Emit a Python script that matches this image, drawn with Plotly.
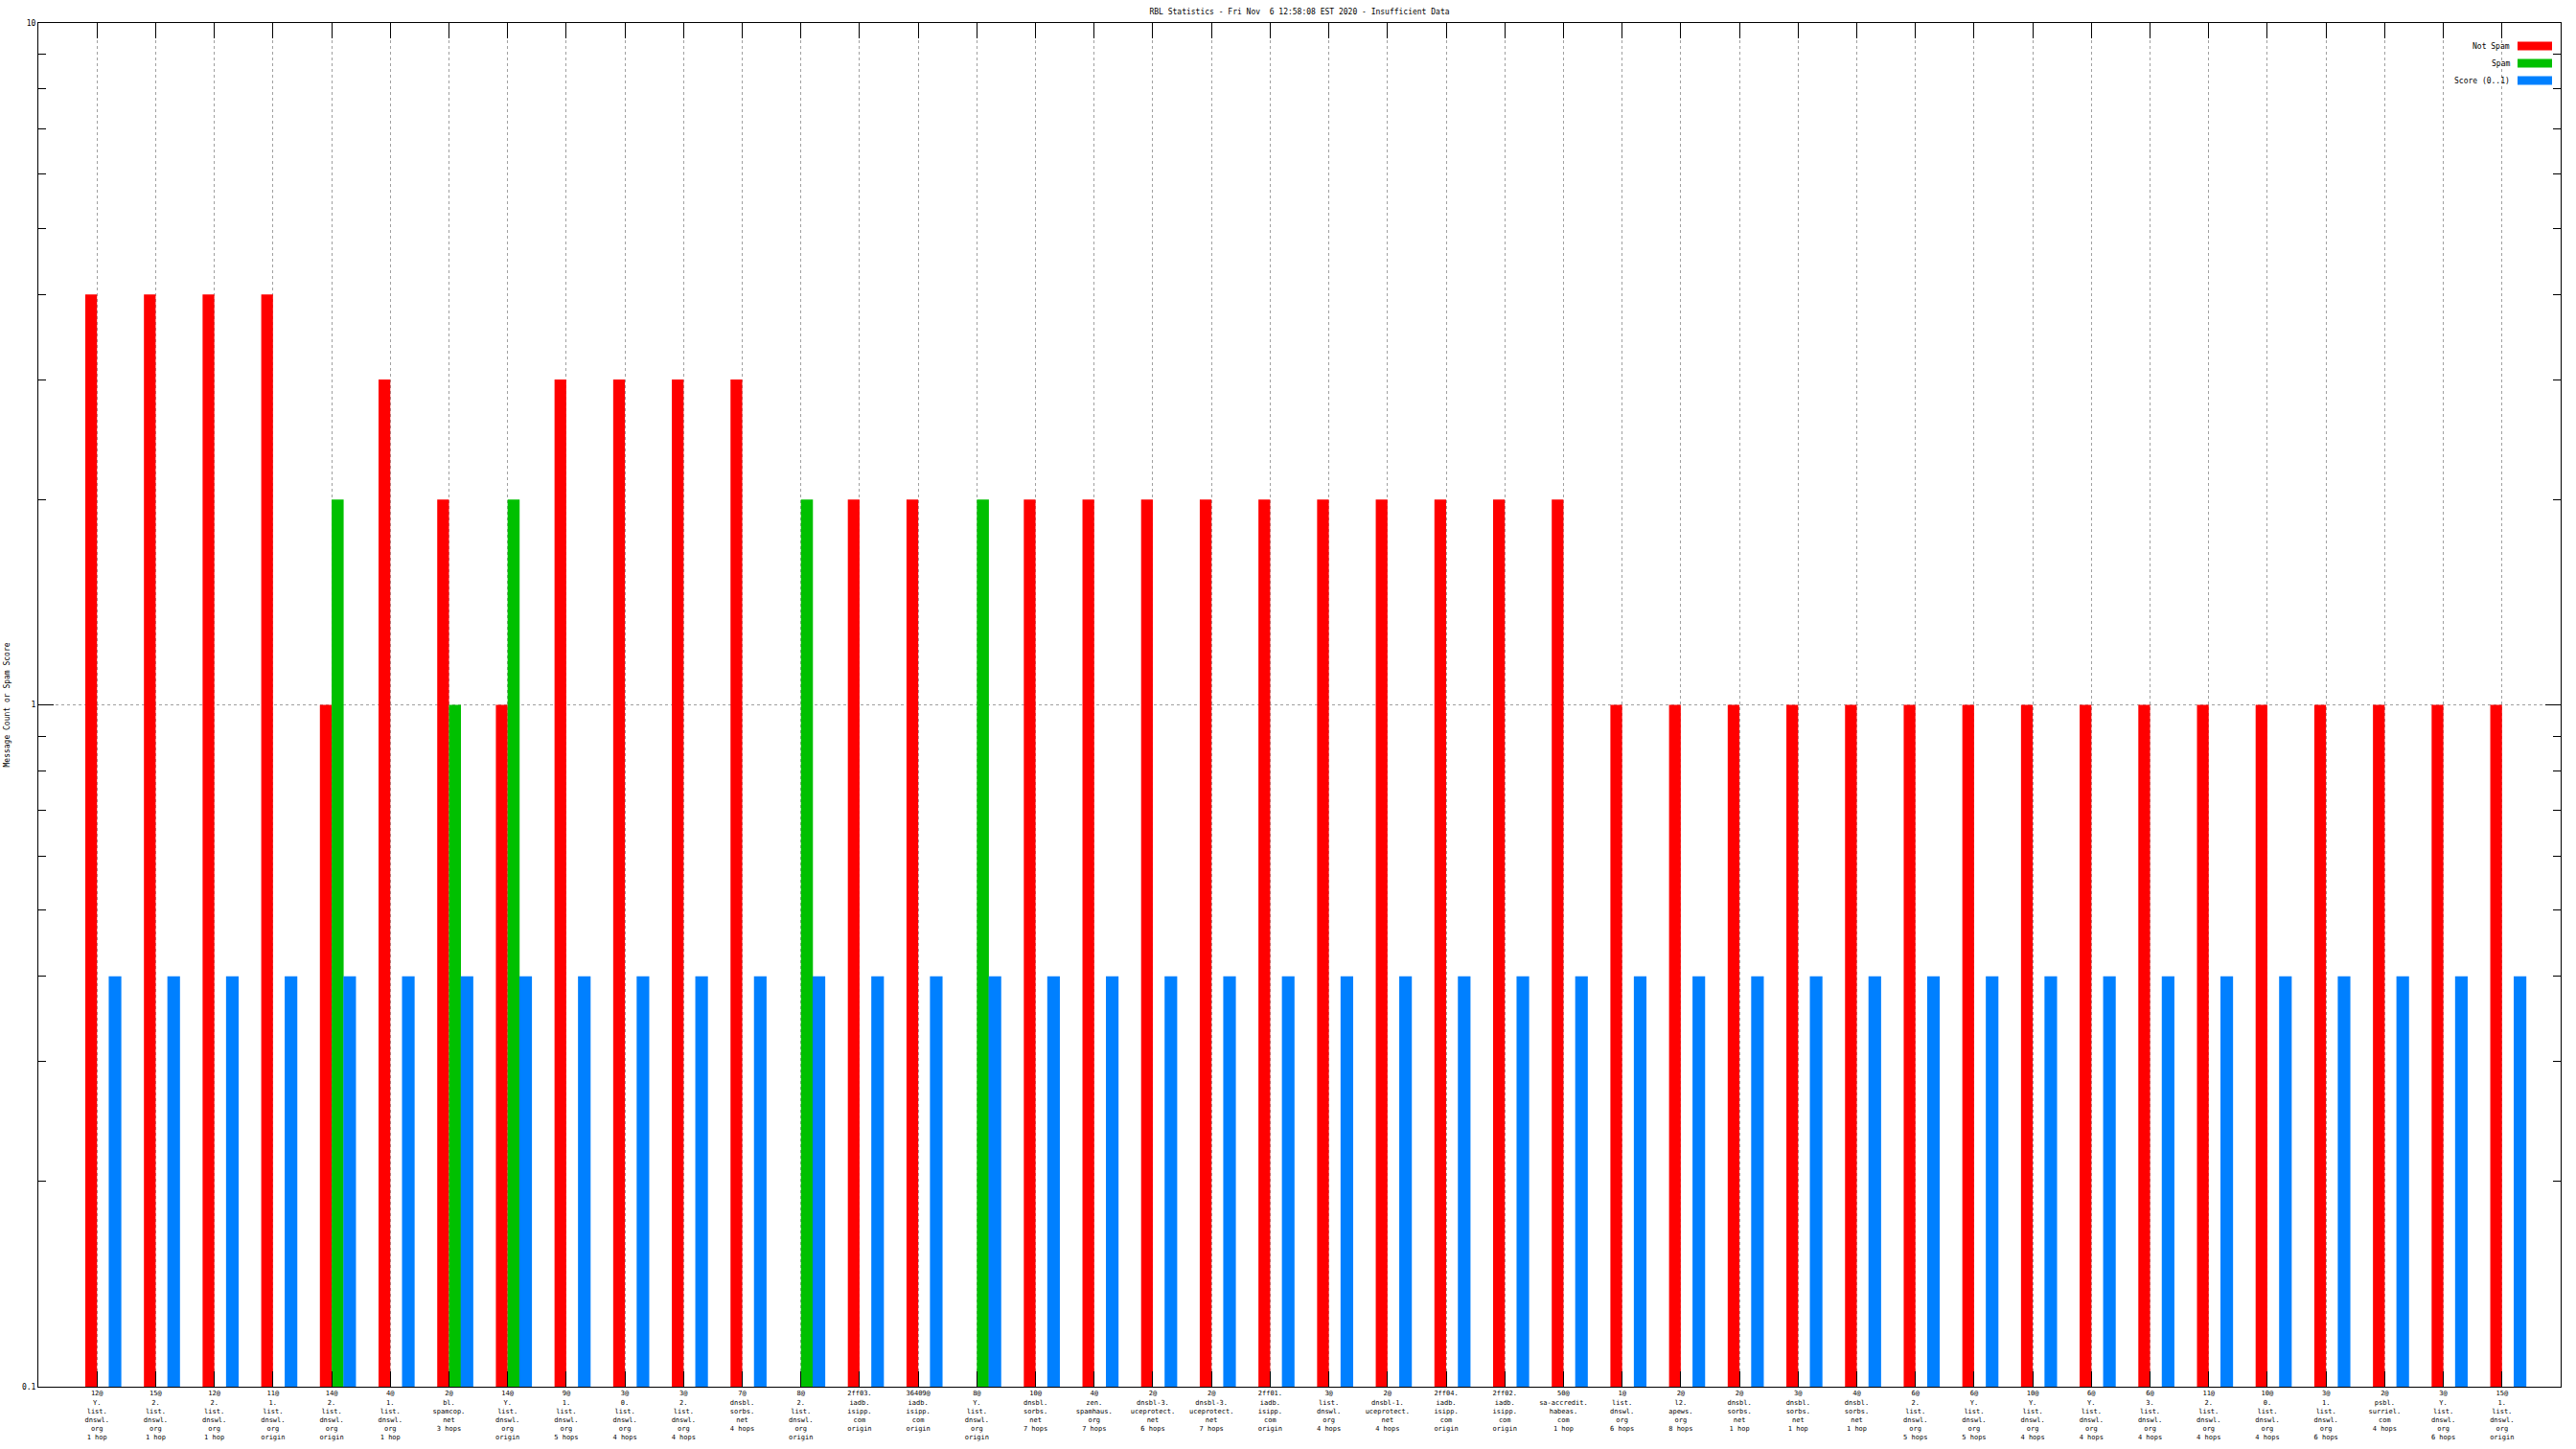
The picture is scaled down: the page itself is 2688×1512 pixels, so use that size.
import plotly.graph_objects as go

# ---- data ----
categories = [
    "12@\nY.\nlist.\ndnswl.\norg\n1 hop",
    "15@\n2.\nlist.\ndnswl.\norg\n1 hop",
    "12@\n2.\nlist.\ndnswl.\norg\n1 hop",
    "11@\n1.\nlist.\ndnswl.\norg\norigin",
    "14@\n2.\nlist.\ndnswl.\norg\norigin",
    "4@\n1.\nlist.\ndnswl.\norg\n1 hop",
    "2@\nbl.\nspamcop.\nnet\n3 hops",
    "14@\nY.\nlist.\ndnswl.\norg\norigin",
    "9@\n1.\nlist.\ndnswl.\norg\n5 hops",
    "3@\n0.\nlist.\ndnswl.\norg\n4 hops",
    "3@\n2.\nlist.\ndnswl.\norg\n4 hops",
    "7@\ndnsbl.\nsorbs.\nnet\n4 hops",
    "8@\n2.\nlist.\ndnswl.\norg\norigin",
    "2ff03.\niadb.\nisipp.\ncom\norigin",
    "36409@\niadb.\nisipp.\ncom\norigin",
    "8@\nY.\nlist.\ndnswl.\norg\norigin",
    "10@\ndnsbl.\nsorbs.\nnet\n7 hops",
    "4@\nzen.\nspamhaus.\norg\n7 hops",
    "2@\ndnsbl-3.\nuceprotect.\nnet\n6 hops",
    "2@\ndnsbl-3.\nuceprotect.\nnet\n7 hops",
    "2ff01.\niadb.\nisipp.\ncom\norigin",
    "3@\nlist.\ndnswl.\norg\n4 hops",
    "2@\ndnsbl-1.\nuceprotect.\nnet\n4 hops",
    "2ff04.\niadb.\nisipp.\ncom\norigin",
    "2ff02.\niadb.\nisipp.\ncom\norigin",
    "50@\nsa-accredit.\nhabeas.\ncom\n1 hop",
    "1@\nlist.\ndnswl.\norg\n6 hops",
    "2@\nl2.\napews.\norg\n8 hops",
    "2@\ndnsbl.\nsorbs.\nnet\n1 hop",
    "3@\ndnsbl.\nsorbs.\nnet\n1 hop",
    "4@\ndnsbl.\nsorbs.\nnet\n1 hop",
    "6@\n2.\nlist.\ndnswl.\norg\n5 hops",
    "6@\nY.\nlist.\ndnswl.\norg\n5 hops",
    "10@\nY.\nlist.\ndnswl.\norg\n4 hops",
    "6@\nY.\nlist.\ndnswl.\norg\n4 hops",
    "6@\n3.\nlist.\ndnswl.\norg\n4 hops",
    "11@\n2.\nlist.\ndnswl.\norg\n4 hops",
    "10@\n0.\nlist.\ndnswl.\norg\n4 hops",
    "3@\n1.\nlist.\ndnswl.\norg\n6 hops",
    "2@\npsbl.\nsurriel.\ncom\n4 hops",
    "3@\nY.\nlist.\ndnswl.\norg\n6 hops",
    "15@\n1.\nlist.\ndnswl.\norg\norigin",
]

not_spam = [4, 4, 4, 4, 1, 3, 2, 1, 3, 3, 3, 3, None, 2, 2, None,
            2, 2, 2, 2, 2, 2, 2, 2, 2, 2,
            1, 1, 1, 1, 1, 1, 1, 1, 1, 1, 1, 1, 1, 1, 1, 1]
spam = [None, None, None, None, 2, None, 1, 2, None, None, None, None, 2, None, None, 2,
        None, None, None, None, None, None, None, None, None, None,
        None, None, None, None, None, None, None, None, None, None, None, None, None, None, None, None]
score = [0.4] * 42

y_tickvals = [0.1, 1, 10]
y_ticktext = ["0.1", "1", "10"]
y_minor = [0.2, 0.3, 0.4, 0.5, 0.6, 0.7, 0.8, 0.9, 2, 3, 4, 5, 6, 7, 8, 9]

series_names = ["Not Spam", "Spam", "Score (0..1)"]
series_colors = ["#ff0000", "#00c000", "#0080ff"]

title_text = "RBL Statistics - Fri Nov\u00a0 6 12:58:08 EST 2020 - Insufficient Data"
y_title = "Message Count or Spam Score"

# ---- figure ----
FONT = "DejaVu Sans Mono"
x = list(range(len(categories)))
ticktext = [c.replace("\n", "<br>") for c in categories]

fig = go.Figure()
offsets = [-0.2, 0.0, 0.2]
widths = [0.2, 0.205, 0.215]
for name, vals, col, off, w in zip(series_names, [not_spam, spam, score], series_colors, offsets, widths):
    fig.add_bar(x=x, y=vals, name=name, marker_color=col, marker_line_width=0,
                offset=off, width=w)

fig.update_layout(
    width=2688, height=1512, autosize=False,
    barmode="overlay", showlegend=False,
    paper_bgcolor="white", plot_bgcolor="white",
    margin=dict(l=40, r=16, t=24, b=65),
    font=dict(family=FONT, size=8, color="black"),
    title=dict(text=title_text, x=0.5, xref="paper", xanchor="center",
               y=1 - 12 / 1512, yref="container", yanchor="middle",
               font=dict(family=FONT, size=8, color="black")),
)

fig.update_xaxes(
    range=[-1, 42], tickmode="array", tickvals=x, ticktext=ticktext, tickangle=0,
    ticks="inside", ticklen=16, tickwidth=1, tickcolor="black",
    showline=True, linecolor="black", linewidth=1, mirror="ticks",
    showgrid=True, gridcolor="#a0a0a0", griddash="dot", gridwidth=1,
    zeroline=False, automargin=False,
    tickfont=dict(family=FONT, size=7, color="black"),
)
fig.update_yaxes(
    type="log", range=[-1, 1], tickmode="array", tickvals=y_tickvals, ticktext=y_ticktext,
    ticks="inside", ticklen=16, tickwidth=1, tickcolor="black",
    minor=dict(ticks="inside", ticklen=8, tickwidth=1, tickcolor="black",
               tickmode="array", tickvals=y_minor, showgrid=False),
    showline=True, linecolor="black", linewidth=1, mirror="ticks",
    showgrid=True, gridcolor="#a0a0a0", griddash="dot", gridwidth=1,
    zeroline=False, automargin=False,
    tickfont=dict(family=FONT, size=8, color="black"),
)

# y-axis title placed at the left edge like gnuplot
fig.add_annotation(text=y_title, xref="paper", yref="paper", x=0, y=0.5,
                   xanchor="center", yanchor="middle", xshift=-33, textangle=-90,
                   showarrow=False, font=dict(family=FONT, size=8, color="black"))

# legend drawn gnuplot-style: text left, swatch right
legend_y_px = [48, 66, 84]
plot_top, plot_h = 24, 1447 - 24
for name, col, ypx in zip(series_names, series_colors, legend_y_px):
    yp = 1 - (ypx - plot_top) / plot_h
    fig.add_shape(type="rect", xref="paper", yref="paper",
                  xsizemode="pixel", ysizemode="pixel", xanchor=1, yanchor=yp,
                  x0=-45, x1=-9, y0=-4.5, y1=4.5, fillcolor=col, line_width=0)
    fig.add_annotation(text=name, xref="paper", yref="paper", x=1, y=yp,
                       xanchor="right", yanchor="middle", xshift=-51, showarrow=False,
                       font=dict(family=FONT, size=8, color="black"))

fig.write_html("out.html", config={"displayModeBar": False},
               post_script="document.body.style.margin='0';")
